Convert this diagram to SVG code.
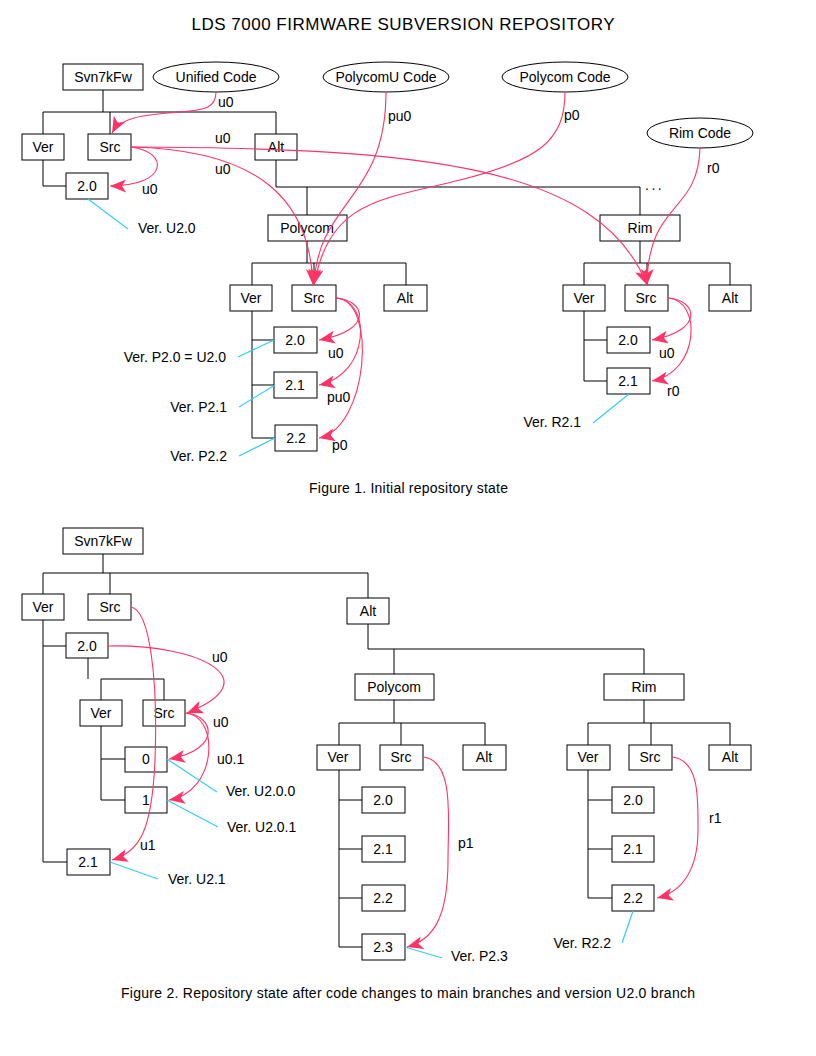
<svg xmlns="http://www.w3.org/2000/svg" width="816" height="1056" viewBox="0 0 816 1056">
<style>
text{font-family:"Liberation Sans",Arial,sans-serif;font-size:14px;fill:#000}
.m{text-anchor:middle}
.e{text-anchor:end}
.b{fill:#fff;stroke:#000;stroke-width:1}
.tr{fill:none;stroke:#000;stroke-width:1}
.p{fill:none;stroke:#FF3366;stroke-width:1.1;marker-end:url(#ah)}
.c{stroke:#33CCFF;stroke-width:1.2}
</style>
<defs>
<marker id="ah" markerUnits="userSpaceOnUse" markerWidth="18" markerHeight="15" refX="16" refY="6.5" orient="auto">
<path d="M0,0 L16,6.5 L0,13 L4,6.5 Z" fill="#FF3366"/>
</marker>
</defs>
<rect width="816" height="1056" fill="#fff"/>
<text class="m" x="403" y="30" style="font-size:17px" textLength="423" lengthAdjust="spacing">LDS 7000 FIRMWARE SUBVERSION REPOSITORY</text>

<g id="tree-connectors">
<path class="tr" d="M103,90V112M43,112H276M43,112V134M110,112V134M276,112V134M43,160V186H66M276,160V187M276,187H640M307,187V215M640,187V215M307,241V263M252,263H406M252,263V285M314,263V285M406,263V285M252,311V438M252,340H274M252,385H274M252,438H275M640,241V263M584,263H730M584,263V285M647,263V285M730,263V285M584,311V381M584,340H607M584,381H607"/>
<path class="tr" d="M103,554V573M43,573H368M43,573V594M110,573V594M368,573V598M43,620V862H67M43,646H66M88,658V679M101,679H164M101,679V700M164,679V700M101,726V800M101,759H125M101,800H125M368,624V649H644M394,649V674M644,649V674M394,700V723M339,723H485M339,723V745M401,723V745M485,723V745M339,770V947M339,800H362M339,849H362M339,898H362M339,947H362M644,700V723M588,723H730M588,723V745M651,723V745M730,723V745M588,770V898M588,800H612M588,849H612M588,898H612"/>
</g>

<g id="f1-svn"><rect class="b" x="63" y="64" width="80" height="26"/><text class="m" x="103" y="82">Svn7kFw</text></g>
<g id="f1-unified"><ellipse class="b" cx="216" cy="77" rx="63" ry="15"/><text class="m" x="216" y="82">Unified Code</text></g>
<g id="f1-polycomu"><ellipse class="b" cx="386" cy="77" rx="63" ry="15"/><text class="m" x="386" y="82">PolycomU Code</text></g>
<g id="f1-polycomcode"><ellipse class="b" cx="565" cy="77" rx="63" ry="15"/><text class="m" x="565" y="82">Polycom Code</text></g>
<g id="f1-rimcode"><ellipse class="b" cx="700" cy="133" rx="53" ry="15"/><text class="m" x="700" y="138">Rim Code</text></g>
<g id="f1-ver"><rect class="b" x="22" y="134" width="42" height="26"/><text class="m" x="43" y="152">Ver</text></g>
<g id="f1-src"><rect class="b" x="88" y="134" width="43" height="26"/><text class="m" x="110" y="152">Src</text></g>
<g id="f1-alt"><rect class="b" x="255" y="134" width="42" height="26"/><text class="m" x="276" y="152">Alt</text></g>
<g id="f1-v20"><rect class="b" x="66" y="173" width="42" height="26"/><text class="m" x="87" y="191">2.0</text></g>
<g id="f1-polycom"><rect class="b" x="268" y="215" width="79" height="26"/><text class="m" x="307" y="233">Polycom</text></g>
<g id="f1-rim"><rect class="b" x="600" y="215" width="80" height="26"/><text class="m" x="640" y="233">Rim</text></g>
<g id="f1-p-ver"><rect class="b" x="230" y="285" width="42" height="26"/><text class="m" x="251" y="303">Ver</text></g>
<g id="f1-p-src"><rect class="b" x="292" y="285" width="44" height="26"/><text class="m" x="314" y="303">Src</text></g>
<g id="f1-p-alt"><rect class="b" x="384" y="285" width="43" height="26"/><text class="m" x="405" y="303">Alt</text></g>
<g id="f1-p-20"><rect class="b" x="274" y="327" width="43" height="26"/><text class="m" x="295" y="345">2.0</text></g>
<g id="f1-p-21"><rect class="b" x="274" y="372" width="43" height="26"/><text class="m" x="295" y="390">2.1</text></g>
<g id="f1-p-22"><rect class="b" x="275" y="425" width="42" height="26"/><text class="m" x="296" y="443">2.2</text></g>
<g id="f1-r-ver"><rect class="b" x="563" y="285" width="42" height="26"/><text class="m" x="584" y="303">Ver</text></g>
<g id="f1-r-src"><rect class="b" x="625" y="285" width="43" height="26"/><text class="m" x="646" y="303">Src</text></g>
<g id="f1-r-alt"><rect class="b" x="709" y="285" width="42" height="26"/><text class="m" x="730" y="303">Alt</text></g>
<g id="f1-r-20"><rect class="b" x="607" y="327" width="43" height="26"/><text class="m" x="628" y="345">2.0</text></g>
<g id="f1-r-21"><rect class="b" x="607" y="368" width="43" height="26"/><text class="m" x="628" y="386">2.1</text></g>
<text x="645" y="190" style="letter-spacing:2.5px">...</text>

<g id="f2-svn"><rect class="b" x="63" y="528" width="80" height="26"/><text class="m" x="103" y="546">Svn7kFw</text></g>
<g id="f2-ver"><rect class="b" x="22" y="594" width="42" height="26"/><text class="m" x="43" y="612">Ver</text></g>
<g id="f2-src"><rect class="b" x="88" y="594" width="43" height="26"/><text class="m" x="110" y="612">Src</text></g>
<g id="f2-v20"><rect class="b" x="66" y="633" width="42" height="25"/><text class="m" x="87" y="651">2.0</text></g>
<g id="f2-v20-ver"><rect class="b" x="80" y="700" width="42" height="26"/><text class="m" x="101" y="718">Ver</text></g>
<g id="f2-v20-src"><rect class="b" x="143" y="700" width="42" height="26"/><text class="m" x="164" y="718">Src</text></g>
<g id="f2-v20-0"><rect class="b" x="125" y="747" width="42" height="25"/><text class="m" x="146" y="764">0</text></g>
<g id="f2-v20-1"><rect class="b" x="125" y="787" width="42" height="26"/><text class="m" x="146" y="805">1</text></g>
<g id="f2-v21"><rect class="b" x="67" y="849" width="43" height="26"/><text class="m" x="88" y="867">2.1</text></g>
<g id="f2-alt"><rect class="b" x="347" y="598" width="42" height="26"/><text class="m" x="368" y="616">Alt</text></g>
<g id="f2-polycom"><rect class="b" x="355" y="674" width="79" height="26"/><text class="m" x="394" y="692">Polycom</text></g>
<g id="f2-rim"><rect class="b" x="604" y="674" width="80" height="26"/><text class="m" x="644" y="692">Rim</text></g>
<g id="f2-p-ver"><rect class="b" x="317" y="745" width="43" height="25"/><text class="m" x="338" y="762">Ver</text></g>
<g id="f2-p-src"><rect class="b" x="380" y="745" width="43" height="25"/><text class="m" x="401" y="762">Src</text></g>
<g id="f2-p-alt"><rect class="b" x="463" y="745" width="43" height="25"/><text class="m" x="484" y="762">Alt</text></g>
<g id="f2-p-20"><rect class="b" x="362" y="787" width="43" height="26"/><text class="m" x="383" y="805">2.0</text></g>
<g id="f2-p-21"><rect class="b" x="362" y="836" width="43" height="26"/><text class="m" x="383" y="854">2.1</text></g>
<g id="f2-p-22"><rect class="b" x="362" y="885" width="43" height="26"/><text class="m" x="383" y="903">2.2</text></g>
<g id="f2-p-23"><rect class="b" x="362" y="934" width="43" height="26"/><text class="m" x="383" y="952">2.3</text></g>
<g id="f2-r-ver"><rect class="b" x="567" y="745" width="43" height="25"/><text class="m" x="588" y="762">Ver</text></g>
<g id="f2-r-src"><rect class="b" x="629" y="745" width="43" height="25"/><text class="m" x="650" y="762">Src</text></g>
<g id="f2-r-alt"><rect class="b" x="709" y="745" width="42" height="25"/><text class="m" x="730" y="762">Alt</text></g>
<g id="f2-r-20"><rect class="b" x="612" y="787" width="42" height="26"/><text class="m" x="633" y="805">2.0</text></g>
<g id="f2-r-21"><rect class="b" x="612" y="836" width="42" height="26"/><text class="m" x="633" y="854">2.1</text></g>
<g id="f2-r-22"><rect class="b" x="612" y="885" width="42" height="26"/><text class="m" x="633" y="903">2.2</text></g>

<g id="code-flows">
<path class="p" d="M216,92 C216,108 205,110 180,112 C140,115 120,118 112,133"/>
<path class="p" d="M131,147 C170,152 168,186 110,186"/>
<path class="p" d="M131,147 C260,150 310,200 313,285"/>
<path class="p" d="M131,147 C420,148 600,165 647,285"/>
<path class="p" d="M386,92 C386,200 318,200 314,285"/>
<path class="p" d="M565,92 C565,140 540,160 460,180 S330,200 314,285"/>
<path class="p" d="M700,148 C698,215 648,200 647,285"/>
<path class="p" d="M336,298 C365,300 375,330 319,340"/>
<path class="p" d="M336,298 C372,300 370,375 319,385"/>
<path class="p" d="M336,298 C378,300 368,428 319,438"/>
<path class="p" d="M668,298 C697,300 705,330 652,340"/>
<path class="p" d="M668,298 C702,300 700,372 652,381"/>
<path class="p" d="M108,646 C200,644 270,680 187,713"/>
<path class="p" d="M185,713 C215,715 222,750 169,759"/>
<path class="p" d="M185,713 C220,715 218,792 169,800"/>
<path class="p" d="M131,607 C150,610 158,680 155,760 C152,830 140,852 112,860"/>
<path class="p" d="M423,757 C455,760 448,820 448,860 C448,920 432,940 407,947"/>
<path class="p" d="M672,757 C700,760 698,800 698,830 C698,870 682,892 657,898"/>
</g>

<g id="flow-labels">
<text x="218" y="107">u0</text>
<text x="388" y="121">pu0</text>
<text x="564" y="120">p0</text>
<text x="707" y="173">r0</text>
<text x="215" y="143">u0</text>
<text x="215" y="174">u0</text>
<text x="142" y="194">u0</text>
<text x="328" y="358">u0</text>
<text x="327" y="402">pu0</text>
<text x="332" y="450">p0</text>
<text x="659" y="358">u0</text>
<text x="667" y="396">r0</text>
<text x="212" y="662">u0</text>
<text x="213" y="727">u0</text>
<text x="217" y="764">u0.1</text>
<text x="140" y="850">u1</text>
<text x="458" y="848">p1</text>
<text x="709" y="823">r1</text>
</g>

<g id="version-notes">
<path class="c" d="M88,199L128,229M274,340L238,357M275,385L239,407M275,438L239,456M629,394L593,423M167,759L217,792M167,800L218,827M110,862L158,879M405,947L442,958M633,911L622,943"/>
<text x="138" y="233">Ver. U2.0</text>
<text class="e" x="226" y="362">Ver. P2.0 = U2.0</text>
<text class="e" x="227" y="412">Ver. P2.1</text>
<text class="e" x="227" y="461">Ver. P2.2</text>
<text class="e" x="581" y="427">Ver. R2.1</text>
<text x="226" y="796">Ver. U2.0.0</text>
<text x="227" y="832">Ver. U2.0.1</text>
<text x="168" y="884">Ver. U2.1</text>
<text x="451" y="961">Ver. P2.3</text>
<text class="e" x="611" y="948">Ver. R2.2</text>
</g>

<text x="309" y="493" textLength="199" lengthAdjust="spacing">Figure 1. Initial repository state</text>
<text x="121" y="998" textLength="574" lengthAdjust="spacing">Figure 2. Repository state after code changes to main branches and version U2.0 branch</text>
</svg>
